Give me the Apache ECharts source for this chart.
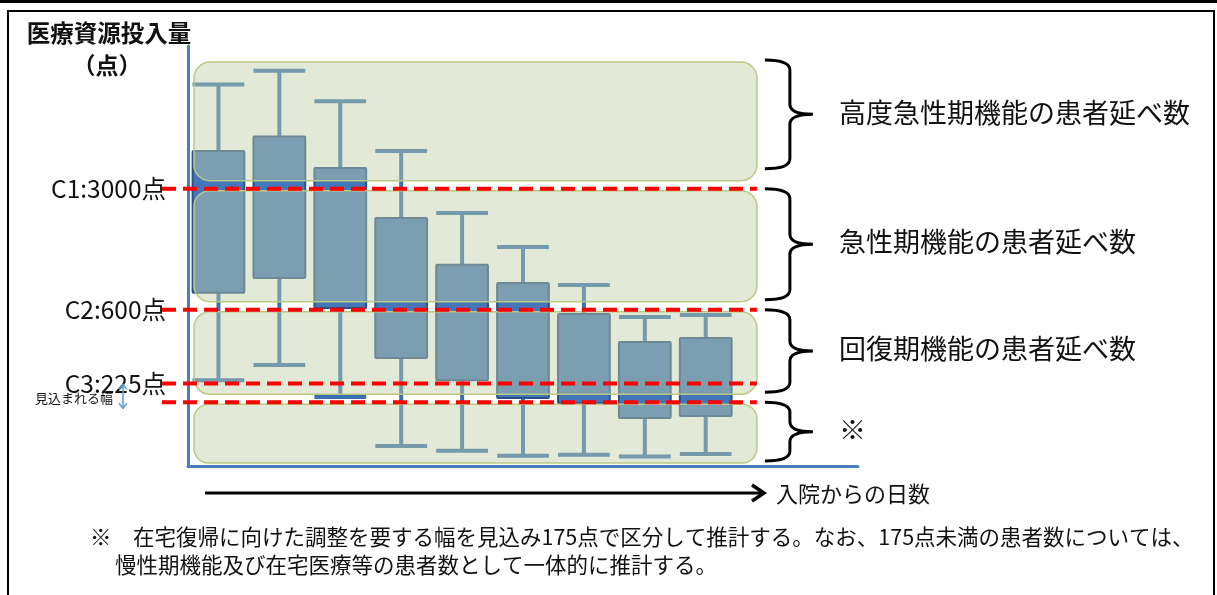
<!DOCTYPE html>
<html>
<head>
<meta charset="utf-8">
<script src="https://cdn.jsdelivr.net/npm/echarts@6/dist/echarts.min.js"></script>
<style>
  html, body { margin: 0; padding: 0; background: #ffffff; }
  #chart { width: 1217px; height: 595px; }
</style>
</head>
<body>
<div id="chart"></div>
<script>
// Days after admission
const days = [1, 2, 3, 4, 5, 6, 7, 8, 9];
// Medical resource input per patient-day (points)
const whiskerLow   = [235, 287, 188, 98, 92, 86, 87, 85, 88];
const quartileLow  = [750, 915, 614, 315, 235, 185, 173, 142, 146];
const quartileHigh = [4950, 6000, 3950, 2030, 1090, 856, 567, 390, 412];
const whiskerHigh  = [12000, 14400, 9600, 4950, 2170, 1380, 833, 545, 559];

// Cut-off points
const cutoffValues = [3000, 600, 225, 175];
const cutoffLabels = ['C1:3000点', 'C2:600点', 'C3:225点', ''];

// Function bands (points); null = open towards the axis end
const bandNames = ['高度急性期機能の患者延べ数', '急性期機能の患者延べ数', '回復期機能の患者延べ数', '※'];
const bandLower = [3000, 600, 175, null];
const bandUpper = [null, 3000, 600, 175];

// Expected adjustment width between C3 and 175 points
const marginRange = [225, 175];
const marginLabel = '見込まれる幅';

const yAxisTitle = ['医療資源投入量', '（点）'];
const xAxisTitle = '入院からの日数';
const footnote = [
  '※　在宅復帰に向けた調整を要する幅を見込み175点で区分して推計する。なお、175点未満の患者数については、',
  '慢性期機能及び在宅医療等の患者数として一体的に推計する。'
];

// ---- layout ----
const Y_MIN = 75, Y_MAX = 20000;
const X_MIN = 0.5, X_MAX = 11.5;
const BAND_RIGHT = 9.84;
const GRID = { left: 188, top: 46, width: 670, height: 420 };
const FONT = '"Noto Sans CJK JP", "Noto Sans", sans-serif';
const AXIS_BLUE = '#4a7ebb';

const chart = echarts.init(document.getElementById('chart'), null, { renderer: 'canvas' });

function txt(x, y, text, size, align, vAlign, weight) {
  return {
    type: 'text', x: x, y: y,
    style: {
      text: text, fontSize: size, fontFamily: FONT, fill: '#111111', fontWeight: weight || 'normal',
      align: align, verticalAlign: vAlign, textAlign: align, textVerticalAlign: vAlign
    }
  };
}

const option = {
  animation: false,
  grid: { left: GRID.left, top: GRID.top, width: GRID.width, height: GRID.height },
  xAxis: {
    type: 'value', min: X_MIN, max: X_MAX,
    axisLine: { show: true, onZero: false, lineStyle: { color: AXIS_BLUE, width: 3 } },
    axisTick: { show: false }, axisLabel: { show: false }, splitLine: { show: false }
  },
  yAxis: {
    type: 'log', logBase: 10, min: Y_MIN, max: Y_MAX,
    axisLine: { show: true, lineStyle: { color: AXIS_BLUE, width: 3 } },
    axisTick: { show: false }, axisLabel: { show: false }, splitLine: { show: false }
  },
  graphic: [
    { type: 'rect', shape: { x: 0, y: 0, width: 1217, height: 3 }, style: { fill: '#000' } },
    { type: 'rect', shape: { x: 8, y: 11, width: 1206, height: 600 },
      style: { fill: 'none', stroke: '#000', lineWidth: 2 } },
    txt(109, 33, yAxisTitle[0], 23.5, 'center', 'middle', 'bold'),
    txt(107, 65, yAxisTitle[1], 23, 'center', 'middle', 'bold'),
    { type: 'line', shape: { x1: 205, y1: 493, x2: 762, y2: 493 }, style: { stroke: '#000', lineWidth: 3 } },
    { type: 'polyline', shape: { points: [[752, 485], [764, 493], [752, 501]] },
      style: { stroke: '#000', lineWidth: 3.5, fill: 'none' } },
    txt(776, 494, xAxisTitle, 22, 'left', 'middle'),
    txt(90, 537, footnote[0], 21.5, 'left', 'middle'),
    txt(115, 565, footnote[1], 21.5, 'left', 'middle')
  ],
  series: [
    // box and whisker per day
    {
      type: 'custom', z: 2, clip: false,
      data: days.map((d, i) => [d, whiskerLow[i], quartileLow[i], quartileHigh[i], whiskerHigh[i]]),
      encode: { x: 0, y: [1, 2, 3, 4] },
      renderItem(params, api) {
        const d = api.value(0);
        const lo = api.coord([d, api.value(1)]);
        const q1 = api.coord([d, api.value(2)]);
        const q3 = api.coord([d, api.value(3)]);
        const hi = api.coord([d, api.value(4)]);
        const w = (api.coord([d + 0.5, api.value(1)])[0] - api.coord([d - 0.5, api.value(1)])[0]) * 0.85;
        const cx = lo[0];
        const ws = { stroke: '#3a6fb2', lineWidth: 4 };
        return {
          type: 'group', children: [
            { type: 'line', shape: { x1: cx, y1: hi[1], x2: cx, y2: q3[1] }, style: ws },
            { type: 'line', shape: { x1: cx, y1: q1[1], x2: cx, y2: lo[1] }, style: ws },
            { type: 'line', shape: { x1: cx - w / 2, y1: hi[1], x2: cx + w / 2, y2: hi[1] }, style: ws },
            { type: 'line', shape: { x1: cx - w / 2, y1: lo[1], x2: cx + w / 2, y2: lo[1] }, style: ws },
            { type: 'rect', shape: { x: cx - w / 2, y: q3[1], width: w, height: q1[1] - q3[1], r: 1 },
              style: { fill: '#4477ba', stroke: '#2b5187', lineWidth: 2 } }
          ]
        };
      }
    },
    // translucent function bands with braces and names
    {
      type: 'custom', z: 3, clip: false,
      data: bandNames.map((n, i) => [bandLower[i] === null ? Y_MIN : bandLower[i],
                                     bandUpper[i] === null ? Y_MAX : bandUpper[i]]),
      encode: { y: [0, 1] },
      renderItem(params, api) {
        const i = params.dataIndex;
        const lo = api.value(0), hi = api.value(1);
        const openTop = bandUpper[i] === null;
        const xl = api.coord([X_MIN, hi])[0] + 6;
        const xr = api.coord([BAND_RIGHT, hi])[0];
        const yTop = api.coord([1, hi])[1] + (openTop ? 16 : 2);
        const yBot = api.coord([1, lo])[1] - (bandLower[i] === null ? 3 : 8);
        const h = yBot - yTop;
        const y0 = yTop - 2, y1 = yBot - (openTop ? 12 : 2), ym = (y0 + y1) / 2;
        const bx0 = xr + 8, bxv = xr + 33, bxt = xr + 56, r = 10;
        const path = `M${bx0} ${y0} Q${bxv} ${y0} ${bxv} ${y0 + r} L${bxv} ${ym - r} ` +
                     `Q${bxv} ${ym} ${bxt} ${ym} Q${bxv} ${ym} ${bxv} ${ym + r} ` +
                     `L${bxv} ${y1 - r} Q${bxv} ${y1} ${bx0} ${y1}`;
        return {
          type: 'group', children: [
            { type: 'rect', shape: { x: xl, y: yTop, width: xr - xl, height: h, r: Math.min(16, h / 4) },
              style: { fill: 'rgba(190,206,164,0.45)', stroke: '#b9c985', lineWidth: 1.5 } },
            { type: 'path', shape: { pathData: path }, style: { fill: 'none', stroke: '#000', lineWidth: 3 } },
            txt(xr + 82, ym - 2, bandNames[i], 27, 'left', 'middle')
          ]
        };
      }
    },
    // cut-off lines
    {
      type: 'custom', z: 4, clip: false,
      data: cutoffValues.map(v => [v]),
      encode: { y: 0 },
      renderItem(params, api) {
        const i = params.dataIndex;
        const p = api.coord([X_MIN, api.value(0)]);
        const xr = api.coord([BAND_RIGHT, api.value(0)])[0];
        const children = [
          { type: 'line', shape: { x1: p[0] - 26, y1: p[1], x2: xr, y2: p[1] },
            style: { stroke: '#ff0000', lineWidth: 4, lineDash: [14, 7] } }
        ];
        if (cutoffLabels[i]) children.push(txt(p[0] - 22, p[1], cutoffLabels[i], 24.5, 'right', 'middle'));
        return { type: 'group', children: children };
      }
    },
    // expected adjustment width marker
    {
      type: 'custom', z: 4, clip: false,
      data: [marginRange],
      encode: { y: [0, 1] },
      renderItem(params, api) {
        const a = api.coord([X_MIN, api.value(0)]);
        const b = api.coord([X_MIN, api.value(1)]);
        const x = a[0] - 65, ya = a[1] + 1, yb = b[1] + 6;
        const s = { stroke: '#5b9bd5', lineWidth: 1.5, fill: 'none' };
        return {
          type: 'group', children: [
            { type: 'line', shape: { x1: x, y1: ya, x2: x, y2: yb }, style: s },
            { type: 'polyline', shape: { points: [[x - 4, ya + 5], [x, ya], [x + 4, ya + 5]] }, style: s },
            { type: 'polyline', shape: { points: [[x - 4, yb - 5], [x, yb], [x + 4, yb - 5]] }, style: s },
            txt(x - 10, (ya + yb) / 2 + 2, marginLabel, 13, 'right', 'middle')
          ]
        };
      }
    }
  ]
};

chart.setOption(option);
</script>
</body>
</html>
